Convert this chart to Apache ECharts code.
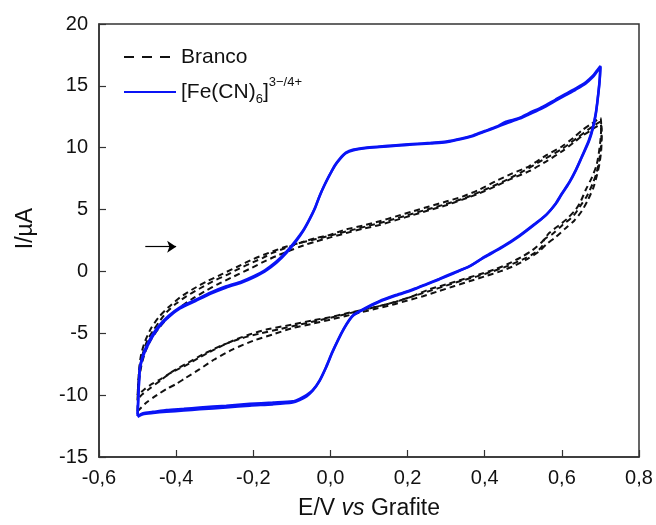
<!DOCTYPE html>
<html>
<head>
<meta charset="utf-8">
<script src="https://cdn.jsdelivr.net/npm/echarts@6/dist/echarts.min.js"></script>
<style>
  html, body { margin: 0; padding: 0; background: #fff; }
  #chart { width: 656px; height: 525px; }
</style>
</head>
<body>
<div id="chart"></div>
<script>
// Axis ranges and tick labels (comma decimal separator)
const xMin = -0.6, xMax = 0.8, xStep = 0.2;
const yMin = -15, yMax = 20, yStep = 5;
const xTickLabels = ['-0,6', '-0,4', '-0,2', '0,0', '0,2', '0,4', '0,6', '0,8'];
const yTickLabels = ['-15', '-10', '-5', '0', '5', '10', '15', '20'];

const seriesNames = ['Branco', '[Fe(CN)6]3−/4+'];

// Blank electrolyte, three consecutive cycles [E / V, I / µA]
const brancoCycle1 = [
  [-0.500,-10.0],[-0.497,-8.6],[-0.493,-7.6],[-0.486,-6.6],[-0.475,-5.6],[-0.460,-4.8],[-0.440,-3.9],
  [-0.425,-3.3],[-0.400,-2.6],[-0.373,-2.0],[-0.340,-1.4],[-0.305,-0.8],[-0.270,-0.3],[-0.235,0.25],
  [-0.200,0.75],[-0.175,1.1],[-0.150,1.5],[-0.120,1.85],[-0.098,2.1],[-0.070,2.4],[-0.037,2.7],
  [-0.002,2.95],[0.041,3.4],[0.084,3.7],[0.127,4.05],[0.170,4.45],[0.213,4.85],[0.256,5.25],
  [0.300,5.65],[0.342,6.05],[0.385,6.6],[0.429,7.3],[0.470,7.9],[0.515,8.5],[0.560,9.4],[0.600,10.1],
  [0.630,10.8],[0.652,11.4],[0.675,11.9],[0.700,12.4],
  [0.702,11.6],[0.700,10.6],[0.696,9.6],[0.690,8.6],[0.678,7.6],[0.662,6.6],[0.648,5.6],[0.636,5.0],
  [0.615,4.3],[0.600,3.9],[0.567,3.1],[0.549,2.4],[0.523,1.7],[0.497,1.2],[0.460,0.6],[0.429,0.2],
  [0.385,-0.25],[0.342,-0.65],[0.300,-1.05],[0.256,-1.45],[0.213,-2.0],[0.170,-2.45],[0.127,-2.8],
  [0.084,-3.1],[0.040,-3.4],[-0.002,-3.7],[-0.046,-3.95],[-0.100,-4.3],[-0.166,-4.7],[-0.210,-5.1],
  [-0.253,-5.6],[-0.300,-6.3],[-0.339,-6.95],[-0.375,-7.6],[-0.408,-8.1],[-0.440,-8.7],[-0.468,-9.2],
  [-0.485,-9.6],[-0.500,-10.0]
];
const brancoCycle2 = [
  [-0.500,-11.3],[-0.499,-10.0],[-0.496,-8.8],[-0.490,-7.6],[-0.480,-6.5],[-0.465,-5.5],[-0.445,-4.6],
  [-0.420,-3.7],[-0.390,-2.9],[-0.360,-2.25],[-0.325,-1.6],[-0.290,-1.0],[-0.250,-0.4],[-0.210,0.2],
  [-0.175,0.75],[-0.140,1.25],[-0.100,1.75],[-0.070,2.1],[-0.040,2.4],[0.000,2.75],[0.041,3.1],
  [0.084,3.45],[0.127,3.75],[0.170,4.15],[0.213,4.55],[0.256,4.95],[0.300,5.35],[0.342,5.8],
  [0.385,6.3],[0.429,6.9],[0.470,7.5],[0.515,8.1],[0.560,8.9],[0.600,9.7],[0.630,10.4],[0.655,11.0],
  [0.680,11.5],[0.700,11.9],
  [0.703,10.8],[0.702,9.8],[0.698,8.8],[0.692,7.9],[0.682,6.8],[0.668,5.8],[0.652,4.9],[0.632,4.1],
  [0.610,3.5],[0.585,2.8],[0.560,2.2],[0.540,1.6],[0.510,1.0],[0.480,0.5],[0.440,0.0],[0.400,-0.4],
  [0.360,-0.8],[0.320,-1.2],[0.280,-1.6],[0.240,-2.0],[0.200,-2.35],[0.160,-2.7],[0.120,-3.0],
  [0.080,-3.3],[0.040,-3.6],[0.000,-3.9],[-0.050,-4.25],[-0.100,-4.6],[-0.150,-5.1],[-0.200,-5.6],
  [-0.253,-6.3],[-0.300,-7.1],[-0.339,-7.9],[-0.375,-8.6],[-0.400,-9.1],[-0.425,-9.5],[-0.450,-10.0],
  [-0.477,-10.6],[-0.500,-11.3]
];
const brancoCycle3 = [
  [-0.500,-10.4],[-0.498,-8.8],[-0.495,-7.6],[-0.490,-6.6],[-0.480,-5.6],[-0.465,-4.6],[-0.445,-3.7],
  [-0.420,-2.9],[-0.390,-2.1],[-0.355,-1.4],[-0.320,-0.8],[-0.280,-0.2],[-0.240,0.4],[-0.200,1.0],
  [-0.160,1.5],[-0.120,1.95],[-0.080,2.3],[-0.040,2.6],[0.000,2.9],[0.050,3.3],[0.100,3.7],[0.150,4.1],
  [0.200,4.55],[0.250,5.0],[0.300,5.45],[0.350,5.95],[0.400,6.6],[0.450,7.3],[0.500,8.1],[0.550,9.0],
  [0.600,9.9],[0.640,10.8],[0.670,11.5],[0.700,12.1],
  [0.703,11.0],[0.701,10.0],[0.697,9.0],[0.690,8.0],[0.680,7.1],[0.665,6.1],[0.648,5.3],[0.630,4.5],
  [0.600,3.7],[0.575,3.0],[0.555,2.6],[0.548,2.0],[0.530,1.5],[0.500,1.0],[0.460,0.45],[0.420,0.0],
  [0.380,-0.4],[0.340,-0.75],[0.300,-1.15],[0.260,-1.55],[0.220,-1.95],[0.180,-2.35],[0.140,-2.7],
  [0.100,-3.0],[0.060,-3.3],[0.020,-3.6],[-0.030,-3.95],[-0.080,-4.3],[-0.130,-4.65],[-0.180,-5.0],
  [-0.230,-5.4],[-0.280,-5.95],[-0.330,-6.7],[-0.370,-7.4],[-0.410,-8.1],[-0.440,-8.8],[-0.470,-9.5],
  [-0.490,-10.0],[-0.500,-10.4]
];

// Ferri/ferrocyanide redox probe, two consecutive cycles
const feCycle1 = [
  [-0.500,-11.7],[-0.497,-9.5],[-0.494,-7.9],[-0.486,-6.9],[-0.477,-6.2],[-0.460,-5.2],[-0.442,-4.4],
  [-0.420,-3.7],[-0.390,-3.0],[-0.350,-2.4],[-0.310,-1.8],[-0.270,-1.3],[-0.230,-0.9],[-0.200,-0.5],
  [-0.170,0.0],[-0.140,0.7],[-0.114,1.5],[-0.090,2.4],[-0.070,3.3],[-0.054,4.2],[-0.040,5.1],
  [-0.028,6.1],[-0.015,7.0],[-0.002,7.8],[0.012,8.6],[0.024,9.1],[0.040,9.6],[0.060,9.85],[0.090,10.0],
  [0.127,10.1],[0.170,10.2],[0.213,10.3],[0.260,10.4],[0.300,10.5],[0.340,10.75],[0.370,11.0],
  [0.400,11.35],[0.430,11.7],[0.455,12.1],[0.490,12.4],[0.515,12.8],[0.550,13.3],[0.584,13.9],
  [0.610,14.35],[0.636,14.8],[0.662,15.3],[0.680,15.8],[0.690,16.2],[0.700,16.6],
  [0.698,15.5],[0.693,14.0],[0.688,12.8],[0.680,11.6],[0.670,10.6],[0.652,9.3],[0.636,8.2],
  [0.619,7.2],[0.600,6.3],[0.584,5.5],[0.560,4.6],[0.532,3.9],[0.490,2.9],[0.446,2.0],[0.400,1.2],
  [0.360,0.4],[0.320,-0.1],[0.282,-0.6],[0.250,-1.0],[0.213,-1.45],[0.170,-1.9],[0.127,-2.4],
  [0.084,-3.06],[0.060,-3.5],[0.049,-3.9],[0.035,-4.6],[0.020,-5.5],[0.005,-6.5],[-0.011,-7.7],
  [-0.028,-8.8],[-0.046,-9.6],[-0.062,-10.0],[-0.080,-10.3],[-0.098,-10.5],[-0.150,-10.6],
  [-0.209,-10.7],[-0.270,-10.85],[-0.339,-11.0],[-0.380,-11.1],[-0.425,-11.2],[-0.460,-11.35],
  [-0.486,-11.45],[-0.500,-11.7]
];
const feCycle2 = [
  [-0.500,-11.55],[-0.497,-9.4],[-0.494,-7.8],[-0.486,-6.75],[-0.477,-6.05],[-0.460,-5.05],
  [-0.442,-4.3],[-0.420,-3.6],[-0.390,-2.9],[-0.350,-2.3],[-0.310,-1.7],[-0.270,-1.2],[-0.230,-0.8],
  [-0.200,-0.4],[-0.170,0.1],[-0.140,0.8],[-0.114,1.6],[-0.090,2.5],[-0.070,3.35],[-0.054,4.25],
  [-0.040,5.15],[-0.028,6.1],[-0.015,7.0],[-0.002,7.8],[0.012,8.55],[0.024,9.05],[0.040,9.55],
  [0.060,9.8],[0.090,9.95],[0.127,10.05],[0.170,10.15],[0.213,10.25],[0.260,10.35],[0.300,10.45],
  [0.340,10.7],[0.370,10.95],[0.400,11.3],[0.430,11.65],[0.455,11.95],[0.490,12.35],[0.515,12.7],
  [0.550,13.2],[0.584,13.8],[0.610,14.25],[0.636,14.7],[0.662,15.2],[0.680,15.7],[0.690,16.1],
  [0.700,16.5],
  [0.698,15.4],[0.693,13.9],[0.688,12.7],[0.680,11.5],[0.670,10.5],[0.652,9.25],[0.636,8.15],
  [0.619,7.15],[0.600,6.25],[0.584,5.45],[0.560,4.6],[0.532,3.85],[0.490,2.85],[0.446,1.95],
  [0.400,1.15],[0.360,0.4],[0.320,-0.15],[0.282,-0.65],[0.250,-1.05],[0.213,-1.5],[0.170,-1.95],
  [0.127,-2.45],[0.084,-3.1],[0.060,-3.55],[0.049,-3.95],[0.035,-4.65],[0.020,-5.55],[0.005,-6.55],
  [-0.011,-7.75],[-0.028,-8.85],[-0.046,-9.65],[-0.062,-10.1],[-0.080,-10.4],[-0.098,-10.6],
  [-0.150,-10.75],[-0.209,-10.85],[-0.270,-11.0],[-0.339,-11.15],[-0.380,-11.25],[-0.425,-11.35],
  [-0.460,-11.45],[-0.486,-11.55],[-0.500,-11.75]
];

// Scan direction marker (start of the anodic sweep)
const scanArrow = [[-0.48, 2.0], [-0.40, 2.0]];

const FONT = '"Liberation Sans", Arial, sans-serif';
const AXIS_COLOR = '#333333';
const BLACK = '#111111';
const BLUE = '#0a14f5';
const NO_MARK = { color: 'rgba(0,0,0,0)', borderColor: 'rgba(0,0,0,0)', borderWidth: 0, opacity: 0 };

const chart = echarts.init(document.getElementById('chart'), null, { renderer: 'canvas' });

function brancoSeries(data) {
  return {
    type: 'line', name: seriesNames[0], data: data,
    showSymbol: false, symbol: 'none', smooth: 0.25,
    lineStyle: { color: BLACK, width: 2, type: [6, 4] },
    itemStyle: { color: BLACK },
    emphasis: { disabled: true }, z: 2
  };
}
function feSeries(data, withArrow) {
  const s = {
    type: 'line', name: seriesNames[1], data: data,
    showSymbol: false, symbol: 'none', smooth: 0.25,
    lineStyle: { color: BLUE, width: 2.5, type: 'solid' },
    itemStyle: { color: BLUE },
    emphasis: { disabled: true }, z: 3
  };
  if (withArrow) {
    s.markLine = {
      silent: true, animation: false,
      symbol: ['none', 'arrow'], symbolSize: 9,
      label: { show: false },
      lineStyle: { color: '#000', width: 1.2, type: 'solid' },
      emphasis: { disabled: true },
      data: [[{ coord: scanArrow[0] }, { coord: scanArrow[1] }]]
    };
  }
  return s;
}

const option = {
  animation: false,
  backgroundColor: '#ffffff',
  textStyle: { fontFamily: FONT },
  grid: {
    left: 99, right: 17, top: 24, bottom: 67,
    show: true, borderColor: AXIS_COLOR, borderWidth: 1.5, backgroundColor: 'transparent'
  },
  legend: {
    orient: 'vertical', left: 123, top: 45, padding: 0,
    itemWidth: 52, itemHeight: 14, itemGap: 7,
    itemStyle: NO_MARK,
    data: [
      { name: seriesNames[0], itemStyle: NO_MARK, lineStyle: { color: BLACK, width: 2, type: [10, 8] } },
      { name: seriesNames[1], itemStyle: NO_MARK, lineStyle: { color: BLUE, width: 2, type: 'solid' } }
    ],
    textStyle: {
      fontFamily: FONT, fontSize: 21, color: '#111', lineHeight: 24,
      rich: {
        b: { fontFamily: FONT, fontSize: 21, color: '#111', lineHeight: 24 },
        sub: { fontFamily: FONT, fontSize: 13, color: '#111', lineHeight: 24, verticalAlign: 'bottom', padding: [0, 0, -2, 0] },
        sup: { fontFamily: FONT, fontSize: 13, color: '#111', lineHeight: 24, verticalAlign: 'top', padding: [-4, 0, 0, 0] }
      }
    },
    formatter: function (name) {
      if (name === seriesNames[1]) return '{b|[Fe(CN)}{sub|6}{b|]}{sup|3−/4+}';
      return '{b|' + name + '}';
    },
    selectedMode: false
  },
  xAxis: {
    type: 'value', min: xMin, max: xMax, interval: xStep,
    name: '{n|E/V }{i|vs}{n| Grafite}',
    nameLocation: 'middle', nameGap: 40,
    nameTextStyle: {
      rich: {
        n: { fontFamily: FONT, fontSize: 23, color: '#111' },
        i: { fontFamily: FONT, fontSize: 23, color: '#111', fontStyle: 'italic' }
      }
    },
    axisLine: { show: true, onZero: false, lineStyle: { color: AXIS_COLOR, width: 1.5 } },
    axisTick: { show: true, inside: true, length: 7, lineStyle: { color: AXIS_COLOR, width: 1.2 } },
    axisLabel: {
      fontFamily: FONT, fontSize: 20, color: '#111', margin: 11,
      formatter: function (v) { return xTickLabels[Math.round((v - xMin) / xStep)]; }
    },
    splitLine: { show: false }
  },
  yAxis: {
    type: 'value', min: yMin, max: yMax, interval: yStep,
    name: 'I/µA', nameLocation: 'middle', nameGap: 62, nameRotate: 90,
    nameTextStyle: { fontFamily: FONT, fontSize: 23, color: '#111', padding: [0, 0, 0, 24] },
    axisLine: { show: true, onZero: false, lineStyle: { color: AXIS_COLOR, width: 1.5 } },
    axisTick: { show: true, inside: true, length: 7, lineStyle: { color: AXIS_COLOR, width: 1.2 } },
    axisLabel: {
      fontFamily: FONT, fontSize: 20, color: '#111', margin: 11,
      formatter: function (v) { return yTickLabels[Math.round((v - yMin) / yStep)]; }
    },
    splitLine: { show: false }
  },
  series: [
    brancoSeries(brancoCycle1),
    brancoSeries(brancoCycle2),
    brancoSeries(brancoCycle3),
    feSeries(feCycle1, true),
    feSeries(feCycle2, false)
  ]
};

chart.setOption(option);
</script>
</body>
</html>
